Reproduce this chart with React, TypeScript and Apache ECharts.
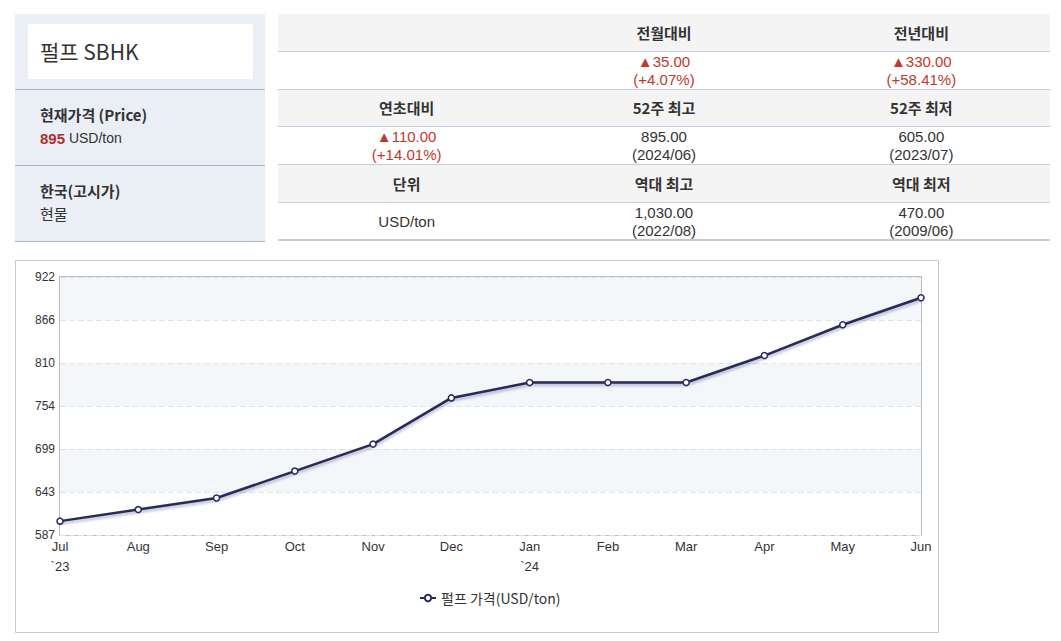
import React, { useEffect, useRef } from "react";
import * as echarts from "echarts";

// ---- data ----
const months = ["Jul", "Aug", "Sep", "Oct", "Nov", "Dec", "Jan", "Feb", "Mar", "Apr", "May", "Jun"];
const yearMarks: Record<number, string> = { 0: "`23", 6: "`24" };
const prices = [605, 620, 635, 670, 705, 765, 785, 785, 785, 820, 860, 895];
const yMin = 587;
const yMax = 922;
const yTickLabels = ["587", "643", "699", "754", "810", "866", "922"];
const seriesName = "펄프 가격(USD/ton)";

const title = "펄프 SBHK";
const currentLabel = "현재가격 (Price)";
const currentPrice = "895";
const unitText = "USD/ton";
const marketLabel = "한국(고시가)";
const marketType = "현물";

const tableHeaders = [
  ["", "전월대비", "전년대비"],
  ["연초대비", "52주 최고", "52주 최저"],
  ["단위", "역대 최고", "역대 최저"],
];
const tableValues = [
  [[], ["▲35.00", "(+4.07%)"], ["▲330.00", "(+58.41%)"]],
  [["▲110.00", "(+14.01%)"], ["895.00", "(2024/06)"], ["605.00", "(2023/07)"]],
  [["USD/ton"], ["1,030.00", "(2022/08)"], ["470.00", "(2009/06)"]],
];

const KR = '"Noto Sans CJK KR", "Noto Sans", sans-serif';
const AR = '"Liberation Sans", Arial, "Noto Sans CJK KR", sans-serif';
const RED = "#c0392b";
const NAVY = "#262a5c";

function buildGraphics() {
  const els: any[] = [];
  // left panel
  els.push({ type: "rect", shape: { x: 15, y: 14, width: 250, height: 227 }, style: { fill: "#eaeef5" }, silent: true });
  els.push({ type: "rect", shape: { x: 28, y: 24, width: 225, height: 55 }, style: { fill: "#ffffff" }, silent: true });
  [89, 165, 241].forEach((y) =>
    els.push({ type: "line", shape: { x1: 15, y1: y + 0.5, x2: 265, y2: y + 0.5 }, style: { stroke: "#a9b7cc", lineWidth: 1 }, silent: true })
  );
  const t = (x: number, y: number, text: string, font: string, fill = "#333", align = "left", extra: any = {}) => ({
    type: "text",
    x,
    y,
    silent: true,
    style: { text, font, fill, align, textAlign: align, verticalAlign: "middle", textVerticalAlign: "middle", ...extra },
  });
  els.push(t(40, 51, title, `21px ${KR}`));
  els.push(t(40, 114, currentLabel, `bold 15px ${KR}`));
  els.push(
    t(40, 138, `{r|${currentPrice}} {n|${unitText}}`, `14px ${AR}`, "#333", "left", {
      rich: {
        r: { font: `bold 15px ${AR}`, fill: "#b02e2a", fontWeight: "bold", fontSize: 15, color: "#b02e2a" },
        n: { font: `14px ${AR}`, fontSize: 14, color: "#333" },
      },
    })
  );
  els.push(t(40, 190, marketLabel, `bold 15px ${KR}`));
  els.push(t(40, 213, marketType, `15px ${KR}`));

  // right table
  const tx = 278;
  const tw = 772;
  const cw = tw / 3;
  const bounds = [14, 51, 89, 126, 164, 202, 240];
  for (let r = 0; r < 3; r++) {
    const hTop = bounds[r * 2];
    const vTop = bounds[r * 2 + 1];
    const vBot = bounds[r * 2 + 2];
    els.push({ type: "rect", shape: { x: tx, y: hTop, width: tw, height: vTop - hTop }, style: { fill: "#f4f4f4" }, silent: true });
    for (let c = 0; c < 3; c++) {
      const cx = tx + cw * c + cw / 2;
      const h = tableHeaders[r][c];
      if (h) els.push(t(cx, (hTop + vTop) / 2, h, `bold 15px ${KR}`, "#333", "center"));
      const vals = tableValues[r][c] as string[];
      if (!vals.length) continue;
      const isChange = vals[0].startsWith("▲");
      const col = isChange ? RED : "#333";
      const mid = (vTop + vBot) / 2;
      els.push(t(cx, mid, vals.join("\n"), `15px ${AR}`, col, "center", { lineHeight: 18 }));
    }
  }
  [51, 89, 126, 164, 202].forEach((y) =>
    els.push({ type: "line", shape: { x1: tx, y1: y + 0.5, x2: tx + tw, y2: y + 0.5 }, style: { stroke: "#c3cde0", lineWidth: 1 }, silent: true })
  );
  els.push({ type: "line", shape: { x1: tx, y1: 240, x2: tx + tw, y2: 240 }, style: { stroke: "#c6cacf", lineWidth: 2 }, silent: true });

  // chart frame
  els.push({ type: "rect", z: -10, shape: { x: 15.5, y: 260.5, width: 923, height: 372 }, style: { fill: "none", stroke: "#c9c9c9", lineWidth: 1 }, silent: true });
  return els;
}

export default function App() {
  const ref = useRef<HTMLDivElement>(null);
  useEffect(() => {
    if (!ref.current) return;
    const chart = echarts.init(ref.current, undefined, { renderer: "svg" });
    const range = yMax - yMin;
    const steps = yTickLabels.length - 1;
    chart.setOption({
      animation: false,
      backgroundColor: "#ffffff",
      graphic: { elements: buildGraphics() },
      grid: { left: 60, top: 277, width: 861, height: 258, show: true, borderColor: "#a6a6a6", borderWidth: 1.5, backgroundColor: "transparent" },
      legend: {
        left: 414,
        top: 586,
        itemWidth: 16,
        itemHeight: 8,
        itemGap: 6,
        textStyle: { fontFamily: KR, fontSize: 14, color: "#333" },
        data: [seriesName],
      },
      xAxis: {
        type: "category",
        boundaryGap: false,
        data: months,
        axisLine: { show: false },
        axisTick: { show: false },
        axisLabel: {
          margin: 1,
          fontFamily: AR,
          fontSize: 13,
          color: "#333",
          lineHeight: 20,
          formatter: (v: string, i: number) => (yearMarks[i] ? `${v}\n${yearMarks[i]}` : v),
        },
        splitLine: { show: false },
      },
      yAxis: {
        type: "value",
        min: 0,
        max: range,
        interval: range / steps,
        axisLine: { show: false },
        axisTick: { show: false },
        axisLabel: {
          margin: 5,
          fontFamily: AR,
          fontSize: 12,
          color: "#333",
          formatter: (v: number) => yTickLabels[Math.round((v / range) * steps)] ?? "",
        },
        splitLine: { show: true, lineStyle: { color: "#dde3ea", type: [6, 3], width: 1 } },
        splitArea: { show: true, areaStyle: { color: ["#ffffff", "#f4f7f9"] } },
      },
      series: [
        {
          name: seriesName,
          type: "line",
          data: prices.map((p) => p - yMin),
          color: NAVY,
          symbol: "circle",
          symbolSize: 6,
          showSymbol: true,
          itemStyle: { color: "#ffffff", borderColor: NAVY, borderWidth: 1.5 },
          lineStyle: { color: NAVY, width: 2.5, shadowColor: "rgba(30,35,90,0.35)", shadowBlur: 3, shadowOffsetY: 2 },
          z: 5,
        },
      ],
    });
    return () => chart.dispose();
  }, []);
  return <div ref={ref} style={{ position: "fixed", left: 0, top: 0, width: 1061, height: 641 }} />;
}
